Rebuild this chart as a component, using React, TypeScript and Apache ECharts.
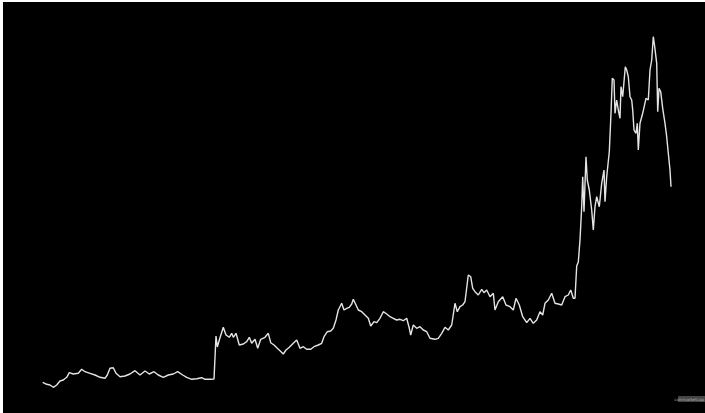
import React, { useEffect, useRef } from "react";
import * as echarts from "echarts";

// time index (arbitrary units) and price level (arbitrary units)
const days: number[] = [
  0, 4, 7.3, 10.6, 14, 17.3, 20.6, 24, 26.6, 30.6, 35.6, 39, 42.3, 47.3, 52.3, 57.3, 62.3, 64.6, 67.3, 70.6,
  73.3, 77.3, 82.3, 87.3, 92.3, 97.3, 102.3, 106.6, 111.3, 115.6, 120.6, 125.6, 130.6, 135, 140, 144, 149, 154, 159, 162.3,
  167.3, 171.3, 173.3, 174.6, 176.6, 180.6, 183.3, 186.6, 189, 190.6, 193.3, 196.6, 200.6, 204, 206.6, 209, 212.3, 215, 218, 222.3,
  225.6, 228, 231.3, 234.6, 237.3, 240.6, 243.3, 246.6, 250.6, 254, 257.3, 260.6, 264, 268, 271.3, 275.6, 279, 281.3, 284.6, 288,
  290.6, 293.3, 295.6, 299, 301.3, 304, 306.6, 309, 310.6, 313.3, 315.6, 319, 322.3, 325.6, 328, 331.3, 334, 337.3, 340.6, 344,
  347.3, 350.6, 354, 357.3, 360.6, 364, 366.6, 368, 370.6, 374, 377.3, 380.6, 384, 387.3, 392.3, 395.6, 399, 402.3, 405.6, 409,
  412.3, 414.6, 417.3, 420, 422.3, 425.6, 428, 430, 432.3, 435.6, 439, 441.3, 444, 447.3, 450.6, 452.3, 455.6, 460, 463.3, 467.3,
  470.6, 473.3, 476.6, 480, 484, 487.3, 490.6, 494, 497.3, 500, 502.3, 505.6, 509, 512.3, 515.6, 519, 522.3, 525.6, 528, 530.6,
  532.3, 534, 535.6, 537.3, 539, 540, 541.3, 543.3, 544.6, 546.6, 549, 550.6, 552.3, 554, 556.6, 559, 561.3, 562.3, 564, 566.6,
  568.3, 569.6, 571.3, 572.3, 574, 575.6, 577.3, 578.3, 580, 582.6, 584, 585.6, 587.3, 589, 590, 591.3, 593.3, 594.6, 595.6, 597.3,
  600, 603.3, 605.6, 607.3, 609, 610.6, 612, 614, 615, 616.3, 618, 620, 622.3, 624, 625.6, 627.3, 628.3,
];

const prices: number[] = [
  17.7, 15.7, 15, 12.7, 15, 19, 20, 22.7, 27.3, 26, 26.7, 30.7, 28.3, 26.7, 25, 22.7, 21.7, 25, 31.7, 32.3,
  26.7, 23.3, 24, 26, 29.3, 25, 29, 26, 28.3, 25, 22.7, 25, 26, 28.3, 25, 22.7, 20.7, 21.3, 22.3, 20.7,
  20.7, 21, 64, 53, 60, 72.7, 65, 62.7, 66.7, 62.7, 66.7, 55, 56, 58.3, 62.7, 56.7, 60.7, 51.7, 60.7, 62.7,
  66.7, 57.3, 55, 51.7, 49.3, 46, 50, 52.7, 56.7, 60, 51.7, 53.3, 50.7, 50.7, 53.3, 55, 56.7, 63.3, 68.3, 69,
  71.7, 80, 90, 96.7, 90, 91.7, 92.7, 96, 100.7, 95, 90, 88.3, 85, 81.7, 74, 78.3, 77.3, 81.7, 88.3, 86,
  83.3, 81.7, 80, 80.7, 79.3, 81.7, 71.7, 65, 75, 71.7, 73.3, 70, 68.3, 61.7, 60.7, 61.7, 66.7, 72.7, 70, 75,
  96.7, 88.3, 93.3, 95, 98.3, 125, 123.3, 111.7, 108.3, 105, 110.7, 107.3, 110, 103.3, 106.7, 90, 98.3, 103.3, 95, 93.3,
  90, 101.7, 95, 83.3, 77.3, 81.7, 76.7, 80, 88.3, 85, 96.7, 100, 106.7, 96.7, 96, 95, 103.3, 105, 110, 101.7,
  101.7, 134, 138, 160, 193.3, 223.3, 188.3, 243.3, 220, 210, 190, 170, 193.3, 203.3, 193.3, 216.7, 230, 198.3, 223.3, 248.3,
  286.7, 321.7, 320, 286.7, 300, 290, 281.7, 313.3, 303.3, 333.3, 330, 323.3, 303.3, 300, 290, 270, 266.7, 276.7, 250, 276.7,
  286.7, 301.7, 300, 330, 340, 363.3, 353.3, 336.7, 288.3, 311.7, 308.3, 291.7, 276.7, 263.3, 246.7, 230, 213.3,
];

const badgeText = "coinmarketcap";

export default function App() {
  const ref = useRef<HTMLDivElement>(null);

  useEffect(() => {
    if (!ref.current) return;
    const chart = echarts.init(ref.current, undefined, { renderer: "svg" });
    const data = days.map((d, i) => [d, prices[i]]);
    chart.setOption({
      animation: false,
      backgroundColor: "transparent",
      grid: { left: 42.7, right: 34, top: 0, bottom: 13 },
      xAxis: {
        type: "value",
        min: 0,
        max: 628.3,
        show: false,
        splitLine: { show: false },
      },
      yAxis: {
        type: "value",
        min: 0,
        max: 400,
        show: false,
        splitLine: { show: false },
      },
      series: [
        {
          type: "line",
          data,
          showSymbol: false,
          symbol: "none",
          lineStyle: { color: "#e4e4e4", width: 1.4 },
        },
      ],
      graphic: [
        {
          type: "rect",
          right: 0,
          bottom: 11,
          shape: { width: 27, height: 6 },
          style: { fill: "#444444" },
        },
        {
          type: "text",
          right: 1,
          bottom: 12,
          style: { text: badgeText, fill: "#b0b0b0", fontSize: 4, fontFamily: "DejaVu Sans" },
        },
      ],
    });
    return () => chart.dispose();
  }, []);

  return (
    <div style={{ position: "fixed", left: 0, top: 0, width: 705, height: 413, background: "#ffffff" }}>
      <div style={{ position: "absolute", left: 3, top: 2, right: 0, bottom: 0, background: "#000000" }} />
      <div ref={ref} style={{ position: "absolute", left: 0, top: 0, width: 705, height: 413 }} />
    </div>
  );
}
